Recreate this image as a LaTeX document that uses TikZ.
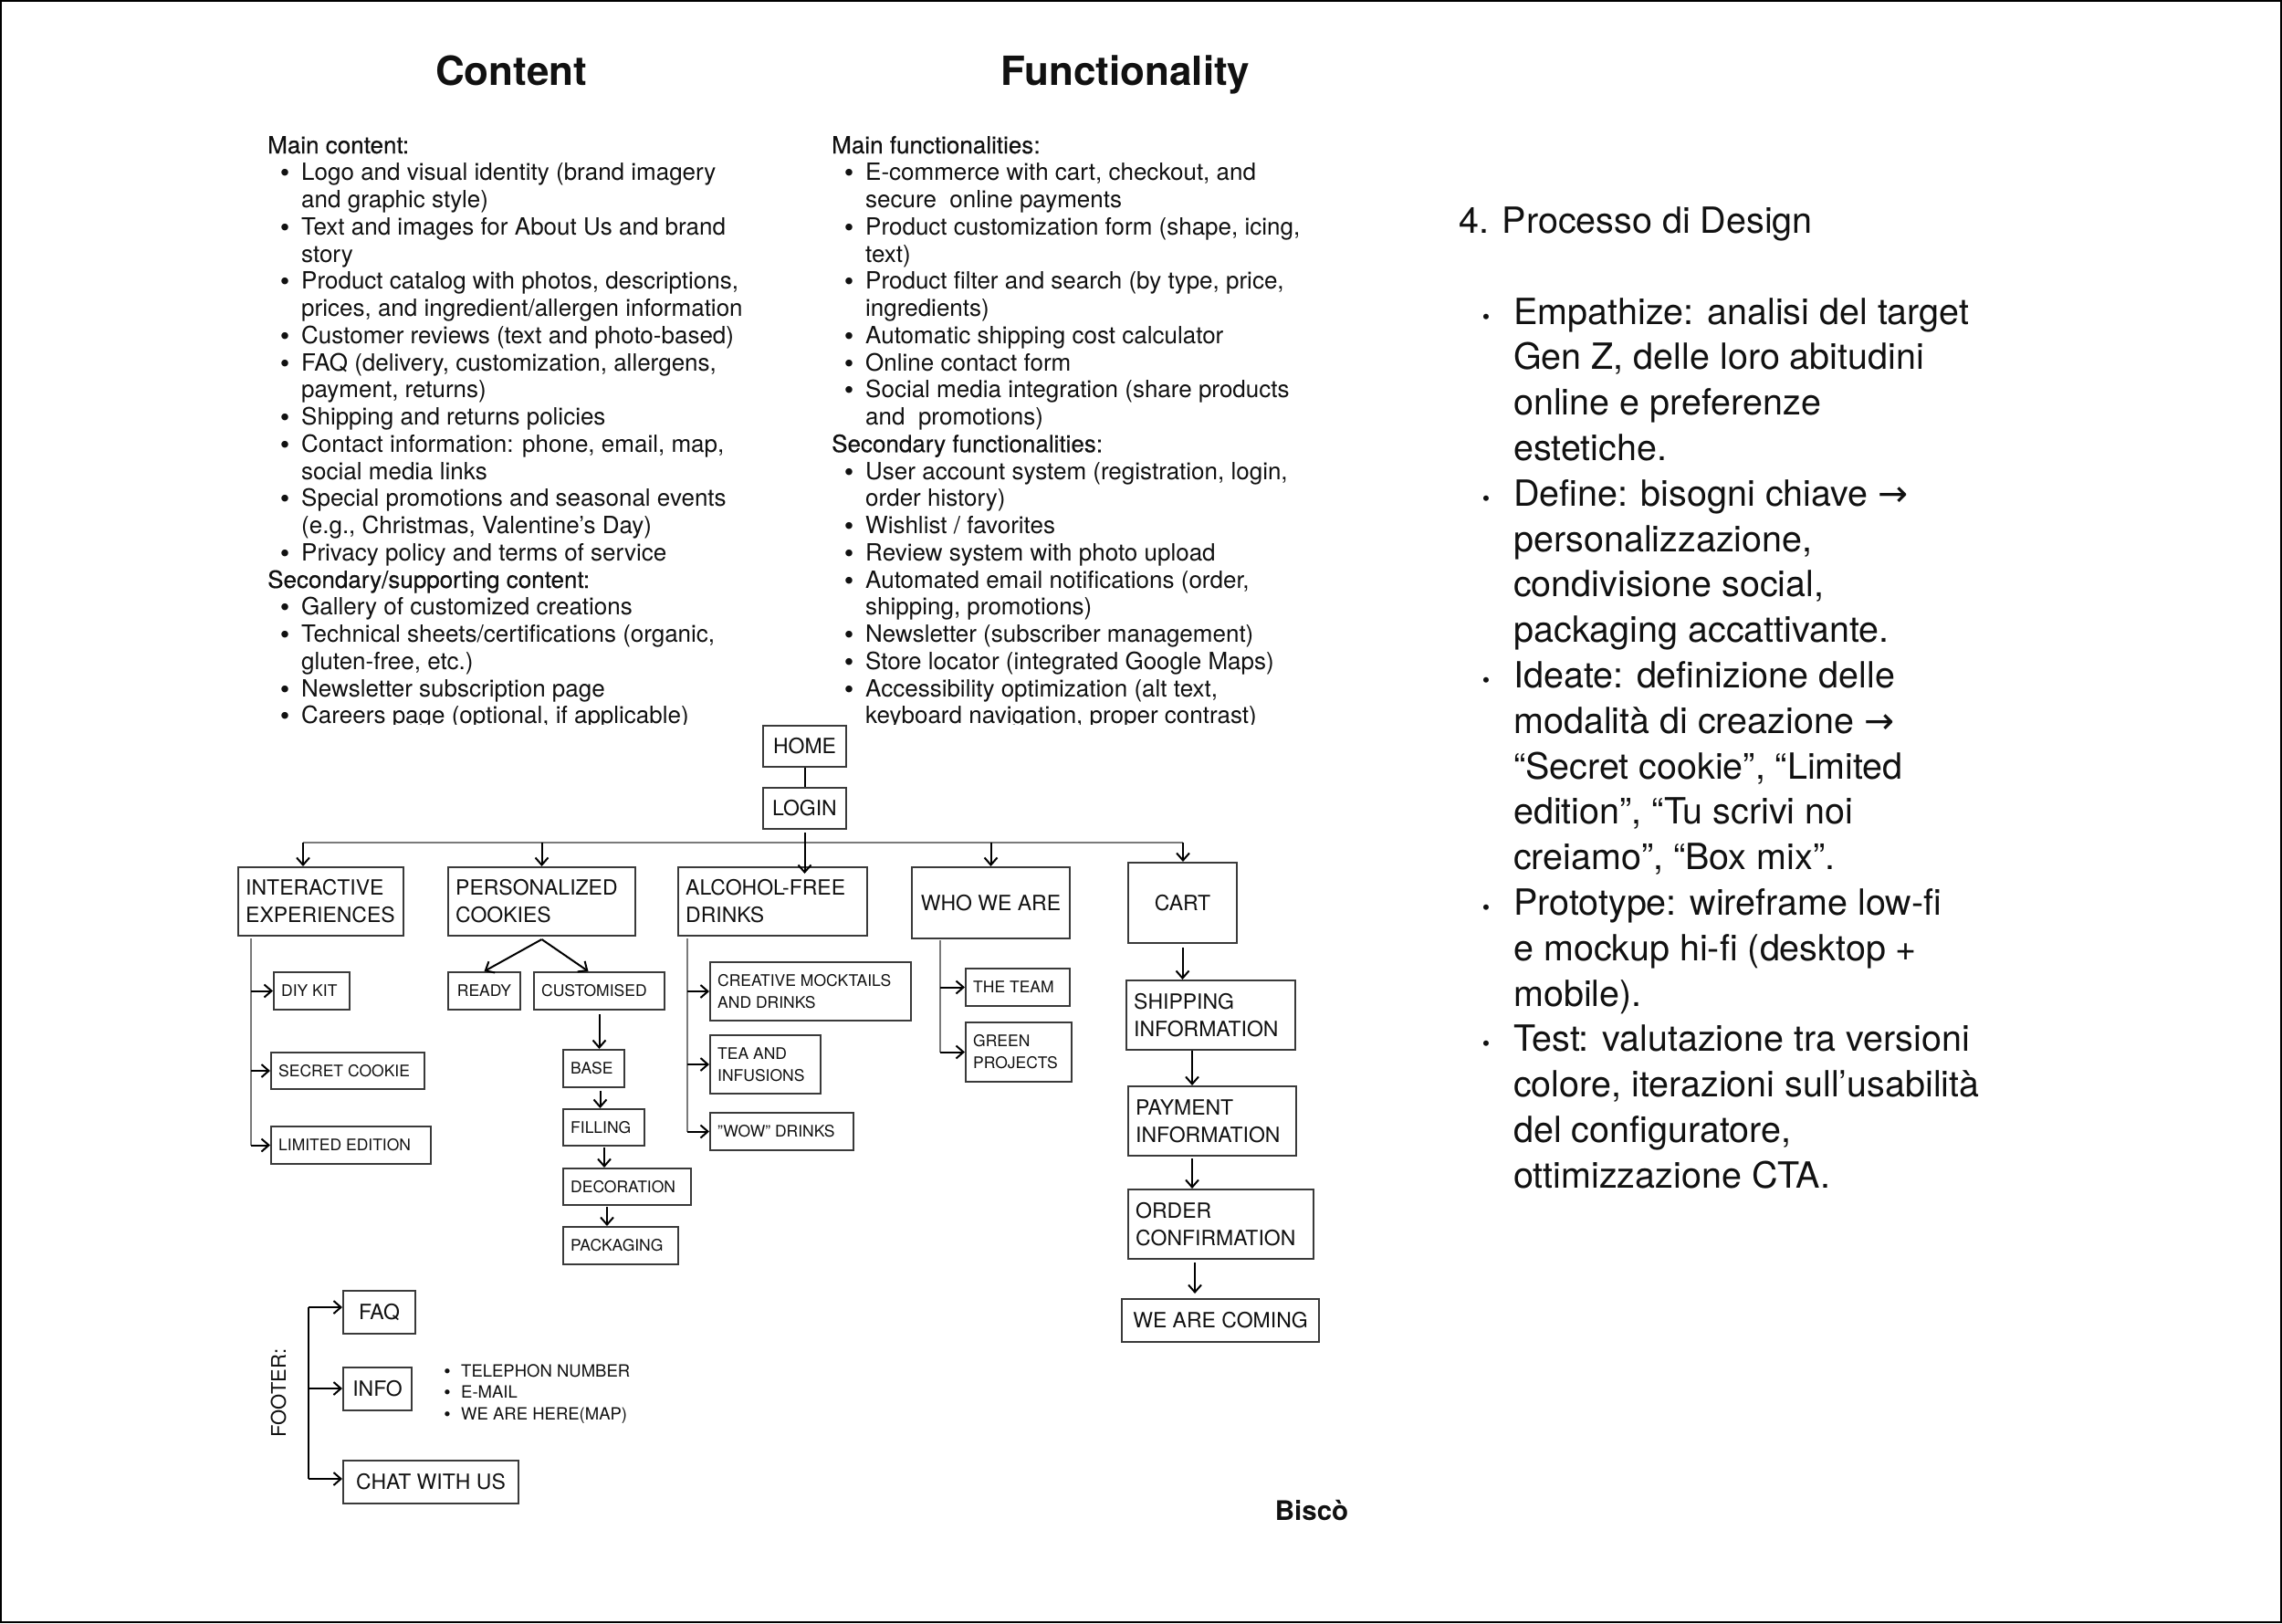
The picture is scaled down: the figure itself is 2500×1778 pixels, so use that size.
\documentclass[tikz,border=0pt]{standalone}
\usepackage{fontspec}
\setmainfont{TeX Gyre Heros}
\newfontfamily\medfont{TeX Gyre Heros}[FakeBold=0.35]
\newfontfamily\symfont{DejaVu Sans}
\usetikzlibrary{arrows.meta,calc}
\definecolor{ink}{HTML}{111111}
\definecolor{boxline}{HTML}{3A3A3A}
\definecolor{busline}{HTML}{7A7A7A}
\newcommand\fs[2]{\fontsize{#1}{#2}\selectfont}
\tikzset{
  every node/.style={inner sep=0pt, text=ink},
  frame/.style={draw=black, line width=2pt},
  box/.style={draw=boxline, line width=2pt, inner sep=0pt},
  bigtxt/.style={font=\fs{23}{30}},
  smalltxt/.style={font=\fs{17.5}{24}},
  lst/.style={font=\fs{26}{30}},
  lsth/.style={font=\medfont\fs{26}{30}},
  bul/.style={font=\fs{30}{30}},
  rtx/.style={font=\fs{39.5}{50}},
  rbul/.style={font=\fs{24}{24}},
  conn/.style={draw=black, line width=2pt},
  side/.style={draw=busline, line width=2pt},
  arr/.style={draw=black, line width=2pt, -{Straight Barb[length=8pt,width=14pt]}},
}
% box: name, x1, y1, x2, y2, text style, l/c, text
\newcommand\bx[8]{%
  \pgfmathsetmacro\bw{#4-#2}\pgfmathsetmacro\bh{#5-#3}%
  \node[box,anchor=north west,minimum width=\bw pt,minimum height=\bh pt] (#1) at (#2,#3) {};
  \if#7l\node[#6,align=left,anchor=west] (#1-t) at ([xshift=9pt]#1.west) {#8};%
  \else\node[#6,align=center] (#1-t) at (#1.center) {#8};\fi}
% list lines: name, column x, line index, text
\newcommand\LH[4]{\node[lsth,anchor=base west] (#1) at (#2,{168+(#3-1)*29.75}) {#4};}
\newcommand\LB[4]{\node[bul,anchor=base] (#1-b) at ({#2+19},{170+(#3-1)*29.75}) {\textbullet};
  \node[lst,anchor=base west] (#1) at ({#2+37},{168+(#3-1)*29.75}) {#4};}
\newcommand\LC[4]{\node[lst,anchor=base west] (#1) at ({#2+37},{168+(#3-1)*29.75}) {#4};}
% right column
\newcommand\RB[3]{\node[rbul,anchor=base] (#1-b) at (1628,{355+#2*49.8}) {\textbullet};
  \node[rtx,anchor=base west] (#1) at (1658,{355+#2*49.8}) {#3};}
\newcommand\RC[3]{\node[rtx,anchor=base west] (#1) at (1658,{355+#2*49.8}) {#3};}
\begin{document}
\begin{tikzpicture}[x=1pt,y=-1pt]
\useasboundingbox (0,0) rectangle (2500,1778);
\fill[white] (0,0) rectangle (2500,1778);
\draw[frame] (1,1) rectangle (2499,1777);

% titles
\node[font=\bfseries\fs{44}{44},anchor=base] (tContent) at (560,93) {Content};
\node[font=\bfseries\fs{44}{44},anchor=base] (tFunc) at (1233,93) {Functionality};

\begin{scope}
\clip (250,110) rectangle (1520,793);
% Content column
\LH{c1}{293}{1}{Main content:}
\LB{c2}{293}{2}{Logo and visual identity (brand imagery}
\LC{c3}{293}{3}{and graphic style)}
\LB{c4}{293}{4}{Text and images for About Us and brand}
\LC{c5}{293}{5}{story}
\LB{c6}{293}{6}{Product catalog with photos, descriptions,}
\LC{c7}{293}{7}{prices, and ingredient/allergen information}
\LB{c8}{293}{8}{Customer reviews (text and photo-based)}
\LB{c9}{293}{9}{FAQ (delivery, customization, allergens,}
\LC{c10}{293}{10}{payment, returns)}
\LB{c11}{293}{11}{Shipping and returns policies}
\LB{c12}{293}{12}{Contact information: phone, email, map,}
\LC{c13}{293}{13}{social media links}
\LB{c14}{293}{14}{Special promotions and seasonal events}
\LC{c15}{293}{15}{(e.g., Christmas, Valentine’s Day)}
\LB{c16}{293}{16}{Privacy policy and terms of service}
\LH{c17}{293}{17}{Secondary/supporting content:}
\LB{c18}{293}{18}{Gallery of customized creations}
\LB{c19}{293}{19}{Technical sheets/certifications (organic,}
\LC{c20}{293}{20}{gluten-free, etc.)}
\LB{c21}{293}{21}{Newsletter subscription page}
\LB{c22}{293}{22}{Careers page (optional, if applicable)}
% Functionality column
\LH{f1}{911}{1}{Main functionalities:}
\LB{f2}{911}{2}{E-commerce with cart, checkout, and}
\LC{f3}{911}{3}{secure\ \ online payments}
\LB{f4}{911}{4}{Product customization form (shape, icing,}
\LC{f5}{911}{5}{text)}
\LB{f6}{911}{6}{Product filter and search (by type, price,}
\LC{f7}{911}{7}{ingredients)}
\LB{f8}{911}{8}{Automatic shipping cost calculator}
\LB{f9}{911}{9}{Online contact form}
\LB{f10}{911}{10}{Social media integration (share products}
\LC{f11}{911}{11}{and\ \ promotions)}
\LH{f12}{911}{12}{Secondary functionalities:}
\LB{f13}{911}{13}{User account system (registration, login,}
\LC{f14}{911}{14}{order history)}
\LB{f15}{911}{15}{Wishlist / favorites}
\LB{f16}{911}{16}{Review system with photo upload}
\LB{f17}{911}{17}{Automated email notifications (order,}
\LC{f18}{911}{18}{shipping, promotions)}
\LB{f19}{911}{19}{Newsletter (subscriber management)}
\LB{f20}{911}{20}{Store locator (integrated Google Maps)}
\LB{f21}{911}{21}{Accessibility optimization (alt text,}
\LC{f22}{911}{22}{keyboard navigation, proper contrast)}
\end{scope}

% right column
\node[rtx,anchor=base west] (rTitle) at (1598,255) {4. Processo di Design};
\RB{r0}{0}{Empathize: analisi del target}
\RC{r1}{1}{Gen Z, delle loro abitudini}
\RC{r2}{2}{online e preferenze}
\RC{r3}{3}{estetiche.}
\RB{r4}{4}{Define: bisogni chiave {\symfont →}}
\RC{r5}{5}{personalizzazione,}
\RC{r6}{6}{condivisione social,}
\RC{r7}{7}{packaging accattivante.}
\RB{r8}{8}{Ideate: definizione delle}
\RC{r9}{9}{modalità di creazione {\symfont →}}
\RC{r10}{10}{“Secret cookie”, “Limited}
\RC{r11}{11}{edition”, “Tu scrivi noi}
\RC{r12}{12}{creiamo”, “Box mix”.}
\RB{r13}{13}{Prototype: wireframe low-fi}
\RC{r14}{14}{e mockup hi-fi (desktop +}
\RC{r15}{15}{mobile).}
\RB{r16}{16}{Test: valutazione tra versioni}
\RC{r17}{17}{colore, iterazioni sull’usabilità}
\RC{r18}{18}{del configuratore,}
\RC{r19}{19}{ottimizzazione CTA.}

% tree boxes
\bx{HOME}{835}{794}{926}{839}{bigtxt}{c}{HOME}
\bx{LOGIN}{835}{862}{926}{907}{bigtxt}{c}{LOGIN}
\bx{INTER}{260}{949}{441}{1024}{bigtxt}{l}{INTERACTIVE\\EXPERIENCES}
\bx{PERS}{490}{949}{695}{1024}{bigtxt}{l}{PERSONALIZED\\COOKIES}
\bx{ALCO}{742}{949}{949}{1024}{bigtxt}{l}{ALCOHOL-FREE\\DRINKS}
\bx{WHO}{998}{949}{1171}{1027}{bigtxt}{c}{WHO WE ARE}
\bx{CART}{1235}{944}{1354}{1032}{bigtxt}{c}{CART}
\bx{DIY}{299}{1064}{382}{1105}{smalltxt}{l}{DIY KIT}
\bx{SECRET}{296}{1152}{464}{1192}{smalltxt}{l}{SECRET COOKIE}
\bx{LIMITED}{296}{1233}{471}{1274}{smalltxt}{l}{LIMITED EDITION}
\bx{READY}{490}{1064}{569}{1105}{smalltxt}{c}{READY}
\bx{CUST}{584}{1064}{727}{1105}{smalltxt}{l}{CUSTOMISED}
\bx{BASE}{616}{1149}{683}{1190}{smalltxt}{l}{BASE}
\bx{FILL}{616}{1214}{705}{1254}{smalltxt}{l}{FILLING}
\bx{DECO}{616}{1279}{756}{1319}{smalltxt}{l}{DECORATION}
\bx{PACK}{616}{1343}{742}{1384}{smalltxt}{l}{PACKAGING}
\bx{CREA}{777}{1053}{997}{1117}{smalltxt}{l}{CREATIVE MOCKTAILS\\AND DRINKS}
\bx{TEA}{777}{1133}{898}{1197}{smalltxt}{l}{TEA AND\\INFUSIONS}
\bx{WOW}{777}{1218}{934}{1259}{smalltxt}{l}{"WOW" DRINKS}
\bx{TEAM}{1057}{1060}{1171}{1101}{smalltxt}{l}{THE TEAM}
\bx{GREEN}{1057}{1119}{1173}{1184}{smalltxt}{l}{GREEN\\PROJECTS}
\bx{SHIP}{1233}{1073}{1418}{1149}{bigtxt}{l}{SHIPPING\\INFORMATION}
\bx{PAY}{1235}{1189}{1419}{1265}{bigtxt}{l}{PAYMENT\\INFORMATION}
\bx{ORDER}{1235}{1302}{1438}{1378}{bigtxt}{l}{ORDER\\CONFIRMATION}
\bx{COMING}{1228}{1422}{1444}{1469}{bigtxt}{c}{WE ARE COMING}
\bx{FAQ}{375}{1413}{454}{1460}{bigtxt}{c}{FAQ}
\bx{INFO}{375}{1497}{450}{1544}{bigtxt}{c}{INFO}
\bx{CHAT}{375}{1599}{567}{1646}{bigtxt}{c}{CHAT WITH US}

% top connectors
\draw[conn] (HOME.south) -- (LOGIN.north);
\coordinate (busL) at (332,923);
\coordinate (busR) at (1296,923);
\draw[side] (busL) -- (busR);
\draw[arr] (busL) -- (busL |- INTER.north);
\draw[arr] (PERS.north |- busL) -- (PERS.north);
\draw[arr] (WHO.north |- busL) -- (WHO.north);
\draw[arr] (busR) -- (busR |- CART.north);
\coordinate (alcoTip) at ($(LOGIN.south |- ALCO.north)+(0,8)$);
\draw[arr] ([yshift=-3pt]LOGIN.south) -- (alcoTip);

% personalized cookies
\draw[arr] ([yshift=-3pt]PERS.south) -- (READY.north);
\draw[arr] ([yshift=-3pt]PERS.south) -- ([xshift=-12pt]CUST.north);
\draw[arr,shorten <=4pt] (CUST.south) -- (CUST.south |- BASE.north);
\draw[arr,shorten <=3pt] ([xshift=7pt]BASE.south) -- ([xshift=7pt]BASE.south |- FILL.north);
\coordinate (fd) at (662,1254);
\draw[arr,shorten <=3pt] (fd) -- (fd |- DECO.north);
\coordinate (dp) at (665,1319);
\draw[arr,shorten <=3pt] (dp) -- (dp |- PACK.north);

% interactive experiences
\coordinate (iv0) at (275,1028);
\draw[side] (iv0) -- (iv0 |- LIMITED.west);
\draw[arr] (iv0 |- DIY.west) -- (DIY.west);
\draw[arr] (iv0 |- SECRET.west) -- (SECRET.west);
\draw[arr] (iv0 |- LIMITED.west) -- (LIMITED.west);

% alcohol-free drinks
\coordinate (av0) at (753,1028);
\draw[side] (av0) -- (av0 |- WOW.west);
\draw[arr] (av0 |- CREA.west) -- (CREA.west);
\draw[arr] (av0 |- TEA.west) -- (TEA.west);
\draw[arr] (av0 |- WOW.west) -- (WOW.west);

% who we are
\coordinate (wv0) at (1030,1030);
\draw[side] (wv0) -- (wv0 |- GREEN.west);
\draw[arr] (wv0 |- TEAM.west) -- (TEAM.west);
\draw[arr] (wv0 |- GREEN.west) -- (GREEN.west);

% cart flow
\draw[arr,shorten <=4pt] (CART.south) -- (CART.south |- SHIP.north);
\coordinate (sp) at (1306,1149);
\draw[arr,shorten <=2pt] (sp) -- (sp |- PAY.north);
\coordinate (po) at (1306,1265);
\draw[arr,shorten <=4pt] (po) -- (po |- ORDER.north);
\coordinate (oc) at (1309,1378);
\draw[arr,shorten <=5pt,shorten >=5pt] (oc) -- (oc |- COMING.north);

% footer
\node[rotate=90,font=\fs{22}{22}] (footer) at (305,1526) {FOOTER:};
\coordinate (fv0) at (338,1432);
\coordinate (fvm) at (338,1521);
\coordinate (fv1) at (338,1620);
\draw[conn] (fv0) -- (fv1);
\draw[arr] (fv0) -- (fv0 -| FAQ.west);
\draw[arr] (fvm) -- (fvm -| INFO.west);
\draw[arr] (fv1) -- (fv1 -| CHAT.west);
\node[font=\fs{21}{21},anchor=base] (ib1) at (490,1509) {\textbullet};
\node[font=\fs{18.5}{23},anchor=base west] (it1) at (505,1508) {TELEPHON NUMBER};
\node[font=\fs{21}{21},anchor=base] (ib2) at (490,1532.5) {\textbullet};
\node[font=\fs{18.5}{23},anchor=base west] (it2) at (505,1531.5) {E-MAIL};
\node[font=\fs{21}{21},anchor=base] (ib3) at (490,1556) {\textbullet};
\node[font=\fs{18.5}{23},anchor=base west] (it3) at (505,1555) {WE ARE HERE(MAP)};

\node[font=\bfseries\fs{29.5}{30},anchor=base] (bisco) at (1437,1665) {Biscò};
\end{tikzpicture}
\end{document}
